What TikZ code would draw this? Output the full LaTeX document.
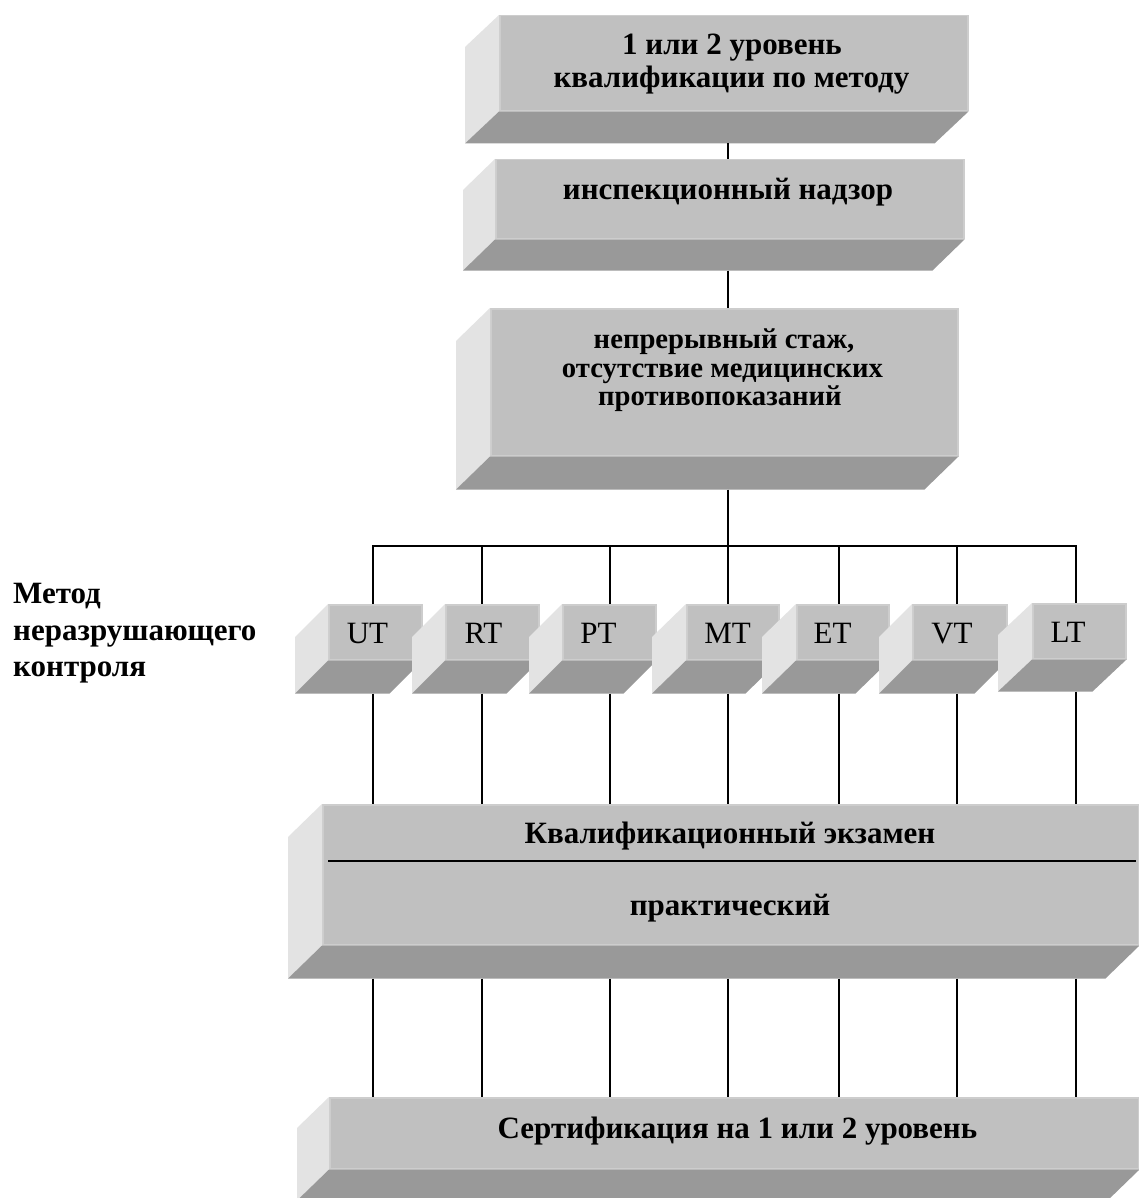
\documentclass[tikz,border=0pt]{standalone}
\usepackage{fontspec}
\setmainfont{Liberation Serif}
\usetikzlibrary{calc}
\definecolor{frontc}{HTML}{C0C0C0}
\definecolor{sidec}{HTML}{E3E3E3}
\definecolor{botc}{HTML}{999999}
\definecolor{edgec}{HTML}{CDCDCD}
\tikzset{
  front/.style={rectangle, fill=frontc, draw=edgec, line width=1.5pt, inner sep=0pt, anchor=north west},
  wire/.style={draw=black, line width=1.4pt},
  bt/.style={font=\bfseries\fontsize{#1}{#1}\selectfont, inner sep=0pt, anchor=base},
  rt/.style={font=\fontsize{#1}{#1}\selectfont, inner sep=0pt, anchor=base},
  lt/.style={font=\bfseries\fontsize{#1}{#1}\selectfont, inner sep=0pt, anchor=base west},
}
\newcommand\solidbox[7]{% name, x1, y1, x2, y2, dx, dy
  \node[front, minimum width={#4-#2}, minimum height={#5-#3}] (#1) at (#2,#3) {};
  \fill[sidec] (#1.north west) -- (#1.south west) -- ++(-#6,#7) -- ($(#1.north west)+(-#6,#7)$) -- cycle;
  \fill[botc] (#1.south west) -- (#1.south east) -- ++(-#6,#7) -- ($(#1.south west)+(-#6,#7)$) -- cycle;
  \coordinate (#1bot) at ($(#1.south)+(0,#7)$);
}
\begin{document}
\begin{tikzpicture}[x=1pt,y=-1pt]
\useasboundingbox[fill=white] (0,0) rectangle (1139,1198);

% boxes
\solidbox{top}{499}{15}{967}{110}{34}{32}
\solidbox{insp}{495}{159}{963}{238}{32}{31}
\solidbox{stazh}{490}{308}{957}{455}{34}{33}
\solidbox{m1}{328}{604}{421}{659}{33}{33}
\solidbox{m2}{445}{604}{538}{659}{33}{33}
\solidbox{m3}{562}{604}{655}{659}{33}{33}
\solidbox{m4}{686}{604}{778}{659}{34}{33}
\solidbox{m5}{796}{604}{888}{659}{34}{33}
\solidbox{m6}{912}{604}{1006}{659}{33}{33}
\solidbox{m7}{1032}{603}{1125}{658}{34}{32}
\solidbox{exam}{322}{804}{1138}{944}{34}{33}
\solidbox{cert}{329}{1097}{1138}{1168}{32}{31}

% coordinates of the wires
\coordinate (spine) at (728,546);
\coordinate (c1) at (373,546);
\coordinate (c2) at (482,546);
\coordinate (c3) at (610,546);
\coordinate (c4) at (728,546);
\coordinate (c5) at (839,546);
\coordinate (c6) at (957,546);
\coordinate (c7) at (1076,546);

% connectors
\draw[wire] (spine |- topbot) -- (spine |- insp.north);
\draw[wire] (spine |- inspbot) -- (spine |- stazh.north);
\draw[wire] (spine |- stazhbot) -- (spine);
\draw[wire] (c1 |- m1.north) -- (c1) -- (c7) -- (c7 |- m7.north);
\foreach \i in {2,...,6} {\draw[wire] (c\i) -- (c\i |- m\i.north);}
\foreach \i in {1,...,7} {
  \draw[wire] (c\i |- m\i bot) -- (c\i |- exam.north);
  \draw[wire] (c\i |- exambot) -- (c\i |- cert.north);
}
\draw[wire] (328,861) coordinate (divl) -- (1136,861) coordinate (divr);

% texts
\node[bt=31] (t1a) at (732,55) {1 или 2 уровень};
\node[bt=31] (t1b) at (731.5,88) {квалификации по методу};
\node[bt=31] (t2) at (728,200) {инспекционный надзор};
\node[bt=28.7] (t3a) at (724,348) {непрерывный стаж,};
\node[bt=28.7] (t3b) at (722.5,377) {отсутствие медицинских};
\node[bt=28.7] (t3c) at (720,405) {противопоказаний};
\node[bt=31] (t4a) at (730,843) {Квалификационный экзамен};
\node[bt=31] (t4b) at (730,915) {практический};
\node[bt=31] (t5) at (737.5,1138) {Сертификация на 1 или 2 уровень};

\node[rt=31] (l1) at (367.5,643) {UT};
\node[rt=31] (l2) at (483.5,643) {RT};
\node[rt=31] (l3) at (598.5,643) {PT};
\node[rt=31] (l4) at (727.5,643) {MT};
\node[rt=31] (l5) at (832.5,643) {ET};
\node[rt=31] (l6) at (952,643) {VT};
\node[rt=31] (l7) at (1068,642) {LT};

\node[lt=31] (g1) at (13,603) {Метод};
\node[lt=31] (g2) at (13,640) {неразрушающего};
\node[lt=31] (g3) at (13,676) {контроля};
\end{tikzpicture}
\end{document}
